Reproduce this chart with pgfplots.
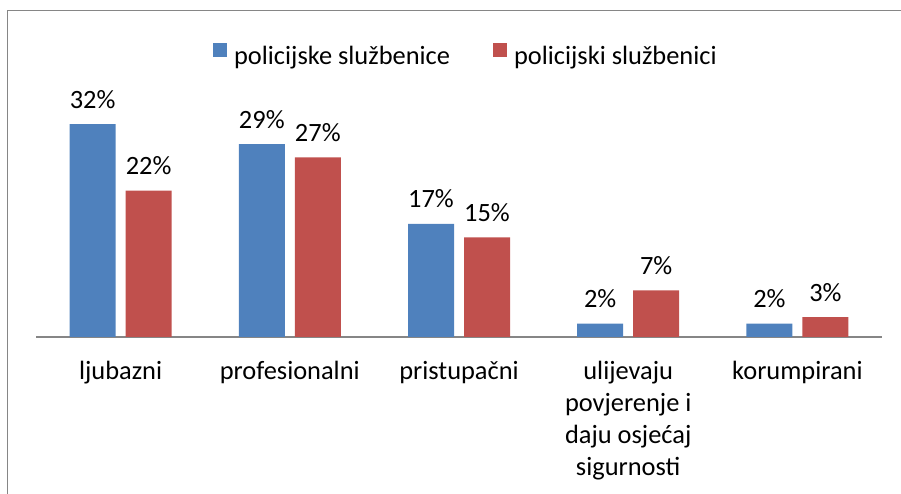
\documentclass[border=0pt]{standalone}
\usepackage{fontspec}
\setmainfont{Carlito}
\usepackage{pgfplots}
\pgfplotsset{compat=1.18}
\definecolor{cblue}{RGB}{79,129,189}
\definecolor{cred}{RGB}{192,80,77}
\definecolor{agray}{RGB}{134,134,134}
\begin{document}
\begin{tikzpicture}
\path[use as bounding box] (0bp,0bp) rectangle (901bp,494bp);
\draw[agray, line width=1.8bp] (7.5bp,0bp) -- (7.5bp,483.5bp) -- (901bp,483.5bp);
\begin{axis}[
  at={(36bp,157bp)}, anchor=south west,
  width=846bp, height=232.75bp, scale only axis,
  xmin=-0.5, xmax=4.5, ymin=0, ymax=35,
  ybar=10bp, bar width=46bp,
  axis y line=none, axis x line=bottom,
  x axis line style={-, draw=agray, line width=1.3bp},
  ytick=\empty,
  xtick={0,1,2,3,4},
  xticklabels={ljubazni, profesionalni, pristupačni, {ulijevaju\\povjerenje i\\daju osjećaj\\sigurnosti}, korumpirani},
  major tick length=0pt,
  xticklabel style={align=center, inner sep=0pt, yshift=-24bp, font=\fontsize{26.4bp}{32bp}\selectfont, text=black},
  clip=false,
  /pgf/number format/assume math mode=true,
  nodes near coords={\pgfmathprintnumber{\pgfplotspointmeta}\%},
  every node near coord/.append style={anchor=base, yshift=16bp, inner sep=0pt, font=\fontsize{26.4bp}{32bp}\selectfont, text=black},
  legend columns=2,
  legend image code/.code={\fill[#1] (0bp,-1bp) rectangle (14bp,13bp);},
  legend style={draw=none, fill=none, inner sep=0pt, at={(0.5070,1.214)}, anchor=center,
    nodes={inner sep=0pt, font=\fontsize{26.4bp}{32bp}\selectfont},
    column sep=0pt,
    /tikz/every odd column/.append style={column sep=7bp},
    /tikz/every even column/.append style={column sep=43bp}},
]
\addplot[fill=cblue, draw=none] coordinates {(0,32) (1,29) (2,17) (3,2) (4,2)};
\addplot[fill=cred, draw=none] coordinates {(0,22) (1,27) (2,15) (3,7) (4,3)};
\legend{policijske službenice, policijski službenici}
\end{axis}
\end{tikzpicture}
\end{document}
